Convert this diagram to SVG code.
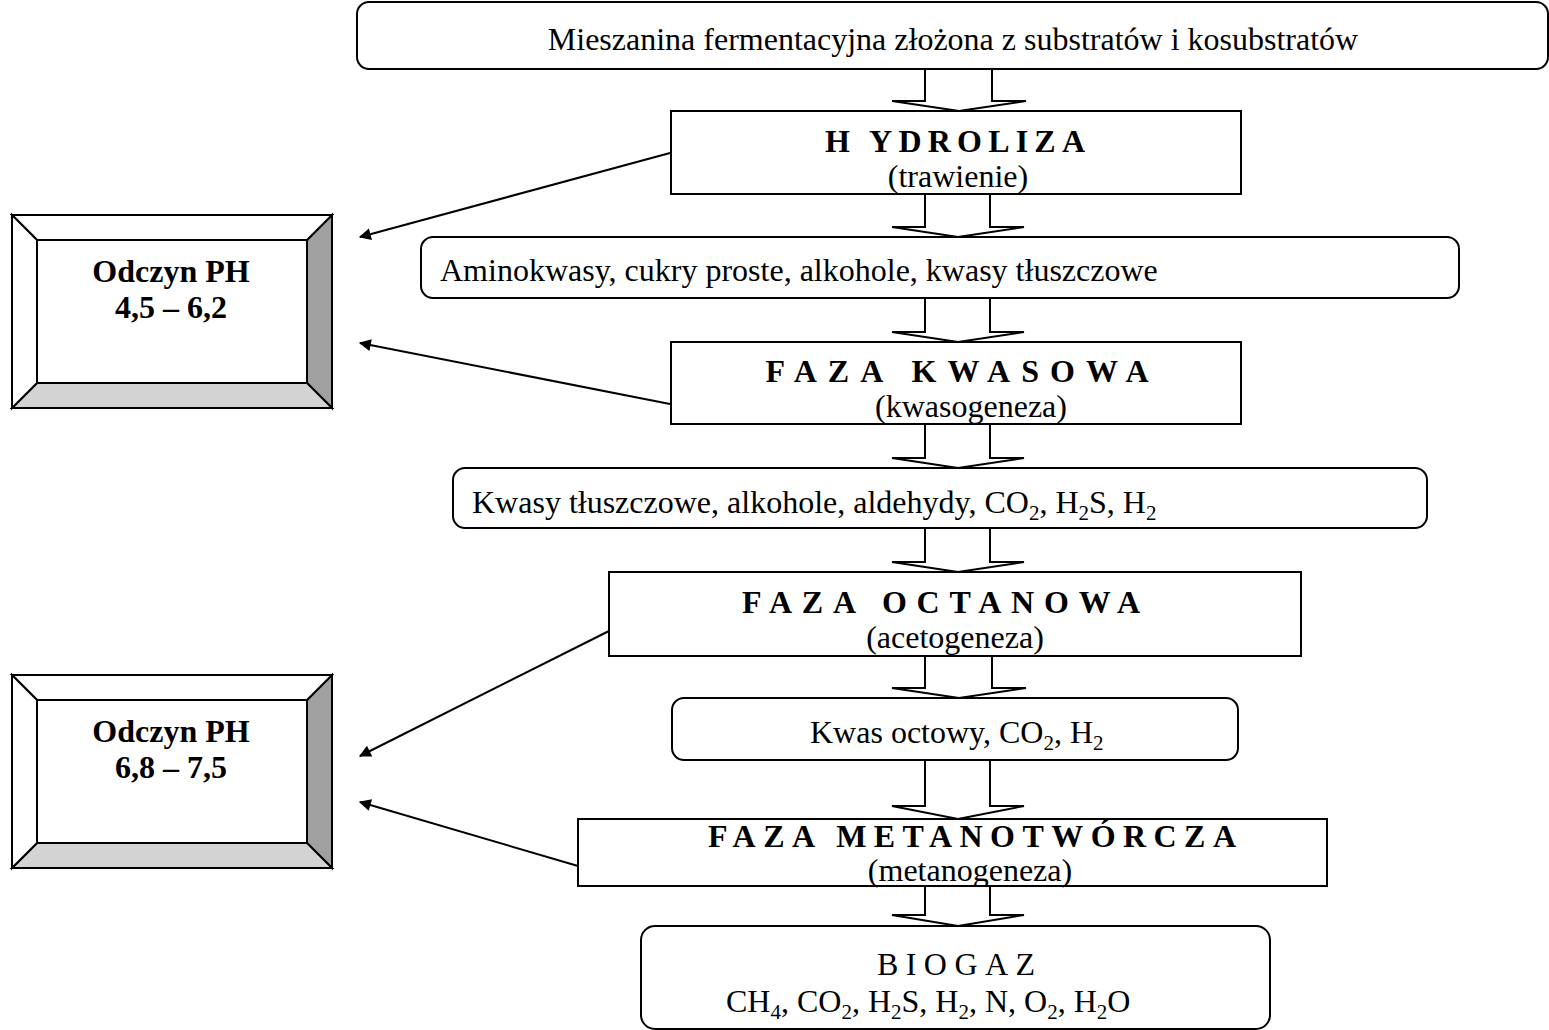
<svg xmlns="http://www.w3.org/2000/svg" width="1549" height="1030" viewBox="0 0 1549 1030">
<style>
.box{fill:#fff;stroke:#000;stroke-width:2}
.t{font-family:"Liberation Serif","Times New Roman",serif;font-size:32px;fill:#000}
.b{font-weight:bold}
.sub{font-size:21px}
.blk{fill:#fff;stroke:#000;stroke-width:2;stroke-linejoin:miter}
.con{fill:none;stroke:#000;stroke-width:2}
.bev{stroke:#000;stroke-width:2;stroke-linejoin:miter}
</style>
<defs>
<marker id="ah" viewBox="0 0 10 10" refX="9" refY="5" markerWidth="8" markerHeight="6" markerUnits="strokeWidth" orient="auto">
<path d="M0,0 L10,5 L0,10 z" fill="#000"/>
</marker>
</defs>
<rect width="1549" height="1030" fill="#fff"/>

<g id="mix">
<rect class="box" x="357" y="2" width="1191" height="67" rx="12"/>
<text class="t" x="953" y="50" text-anchor="middle">Mieszanina fermentacyjna złożona z substratów i kosubstratów</text>
</g>

<g id="hydroliza">
<rect class="box" x="671" y="111" width="570" height="83"/>
<text class="t b" x="955" y="152" text-anchor="middle" textLength="260" lengthAdjust="spacing">H YDROLIZA</text>
<text class="t" x="958" y="187" text-anchor="middle">(trawienie)</text>
</g>

<g id="aminokwasy">
<rect class="box" x="421" y="237" width="1038" height="61" rx="12"/>
<text class="t" x="440" y="281">Aminokwasy, cukry proste, alkohole, kwasy tłuszczowe</text>
</g>

<g id="kwasowa">
<rect class="box" x="671" y="342" width="570" height="82"/>
<text class="t b" x="957" y="382" text-anchor="middle" textLength="383" lengthAdjust="spacing">FAZA  KWASOWA</text>
<text class="t" x="971" y="417" text-anchor="middle">(kwasogeneza)</text>
</g>

<g id="kwasy">
<rect class="box" x="453" y="468" width="974" height="60" rx="12"/>
<text class="t" x="472" y="513">Kwasy tłuszczowe, alkohole, aldehydy, CO<tspan class="sub" dy="7">2</tspan><tspan dy="-7">, H</tspan><tspan class="sub" dy="7">2</tspan><tspan dy="-7">S, H</tspan><tspan class="sub" dy="7">2</tspan></text>
</g>

<g id="octanowa">
<rect class="box" x="609" y="572" width="692" height="84"/>
<text class="t b" x="941" y="613" text-anchor="middle" textLength="398" lengthAdjust="spacing">FAZA  OCTANOWA</text>
<text class="t" x="955" y="648" text-anchor="middle">(acetogeneza)</text>
</g>

<g id="octowy">
<rect class="box" x="672" y="698" width="566" height="62" rx="12"/>
<text class="t" x="810" y="743">Kwas octowy, CO<tspan class="sub" dy="7">2</tspan><tspan dy="-7">, H</tspan><tspan class="sub" dy="7">2</tspan></text>
</g>

<g id="metanotworcza">
<rect class="box" x="578" y="819" width="749" height="67"/>
<text class="t b" x="972" y="847" text-anchor="middle" textLength="528" lengthAdjust="spacing">FAZA  METANOTWÓRCZA</text>
<text class="t" x="970" y="881" text-anchor="middle">(metanogeneza)</text>
</g>

<g id="biogaz">
<rect class="box" x="641" y="926" width="629" height="103" rx="14"/>
<text class="t" x="956" y="975" text-anchor="middle" textLength="158" lengthAdjust="spacing">BIOGAZ</text>
<text class="t" x="726" y="1012">CH<tspan class="sub" dy="7">4</tspan><tspan dy="-7">, CO</tspan><tspan class="sub" dy="7">2</tspan><tspan dy="-7">, H</tspan><tspan class="sub" dy="7">2</tspan><tspan dy="-7">S, H</tspan><tspan class="sub" dy="7">2</tspan><tspan dy="-7">, N, O</tspan><tspan class="sub" dy="7">2</tspan><tspan dy="-7">, H</tspan><tspan class="sub" dy="7">2</tspan><tspan dy="-7">O</tspan></text>
</g>

<g id="ph1">
<rect x="12" y="215" width="320" height="193" fill="#fff"/>
<polygon class="bev" points="332,215 332,408 307,383 307,240" fill="#a0a0a0"/>
<polygon class="bev" points="12,408 332,408 307,383 37,383" fill="#d3d3d3"/>
<polygon class="bev" points="12,215 332,215 307,240 37,240" fill="#fff"/>
<polygon class="bev" points="12,215 37,240 37,383 12,408" fill="#fff"/>
<rect x="12" y="215" width="320" height="193" fill="none" stroke="#000" stroke-width="2"/>
<text class="t b" x="171" y="282" text-anchor="middle">Odczyn PH</text>
<text class="t b" x="171" y="318" text-anchor="middle">4,5 – 6,2</text>
</g>

<g id="ph2">
<rect x="12" y="675" width="320" height="193" fill="#fff"/>
<polygon class="bev" points="332,675 332,868 307,843 307,700" fill="#a0a0a0"/>
<polygon class="bev" points="12,868 332,868 307,843 37,843" fill="#d3d3d3"/>
<polygon class="bev" points="12,675 332,675 307,700 37,700" fill="#fff"/>
<polygon class="bev" points="12,675 37,700 37,843 12,868" fill="#fff"/>
<rect x="12" y="675" width="320" height="193" fill="none" stroke="#000" stroke-width="2"/>
<text class="t b" x="171" y="742" text-anchor="middle">Odczyn PH</text>
<text class="t b" x="171" y="778" text-anchor="middle">6,8 – 7,5</text>
</g>

<g id="connectors">
<polyline class="blk" points="925,70 925,101 892,101 959,111 1026,101 992,101 992,70"/>
<polyline class="blk" points="925,195 925,227 892,227 958,237 1024,227 990,227 990,195"/>
<polyline class="blk" points="925,299 925,332 892,332 958,342 1024,332 990,332 990,299"/>
<polyline class="blk" points="925,425 925,458 892,458 958,468 1024,458 990,458 990,425"/>
<polyline class="blk" points="925,529 925,562 892,562 958,572 1024,562 990,562 990,529"/>
<polyline class="blk" points="925,657 925,688 892,688 959,698 1026,688 992,688 992,657"/>
<polyline class="blk" points="925,761 925,806 892,806 958,819 1024,806 990,806 990,761"/>
<polyline class="blk" points="925,887 925,915 892,915 958,926 1024,915 990,915 990,887"/>
<line class="con" x1="670" y1="153" x2="360" y2="237" marker-end="url(#ah)"/>
<line class="con" x1="670" y1="404" x2="360" y2="343" marker-end="url(#ah)"/>
<line class="con" x1="609" y1="631" x2="360" y2="756" marker-end="url(#ah)"/>
<line class="con" x1="578" y1="866" x2="360" y2="802" marker-end="url(#ah)"/>
</g>
</svg>
